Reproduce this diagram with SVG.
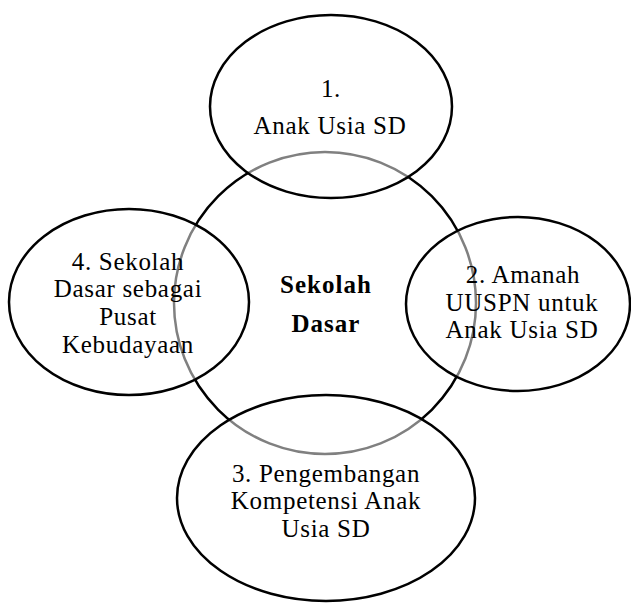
<svg xmlns="http://www.w3.org/2000/svg" width="631" height="603" viewBox="0 0 631 603">
<style>
.bg{fill:#ffffff}
.core{fill:none;stroke:#000;stroke-width:2.5}
.sat{fill:#ffffff;fill-opacity:0.5;stroke:#000;stroke-width:2.5}
text{font-family:"Liberation Serif","Times New Roman",serif;font-size:25px;letter-spacing:0.7px;fill:#000;text-anchor:middle}
.b{font-weight:bold;letter-spacing:1px}
</style>
<rect class="bg" x="0" y="0" width="631" height="603"/>
<g id="center">
<circle class="core" cx="325" cy="303" r="151"/>
<text class="b" x="326" y="293">Sekolah</text>
<text class="b" x="326" y="332">Dasar</text>
</g>
<g id="node1">
<ellipse class="sat" cx="331" cy="106.5" rx="121" ry="91.5"/>
<text x="331" y="97">1.</text>
<text x="330" y="134">Anak Usia SD</text>
</g>
<g id="node2">
<ellipse class="sat" cx="518" cy="304" rx="112" ry="87"/>
<text x="523" y="283">2. Amanah</text>
<text x="522" y="311">UUSPN untuk</text>
<text x="522" y="338">Anak Usia SD</text>
</g>
<g id="node3">
<ellipse class="sat" cx="326" cy="498" rx="149" ry="103"/>
<text x="326" y="482">3. Pengembangan</text>
<text x="326" y="509">Kompetensi Anak</text>
<text x="326" y="537">Usia SD</text>
</g>
<g id="node4">
<ellipse class="sat" cx="129" cy="302" rx="120" ry="93"/>
<text x="128" y="270">4. Sekolah</text>
<text x="128" y="297">Dasar sebagai</text>
<text x="128" y="325">Pusat</text>
<text x="128" y="353">Kebudayaan</text>
</g>
<g id="connectors"></g>
</svg>
